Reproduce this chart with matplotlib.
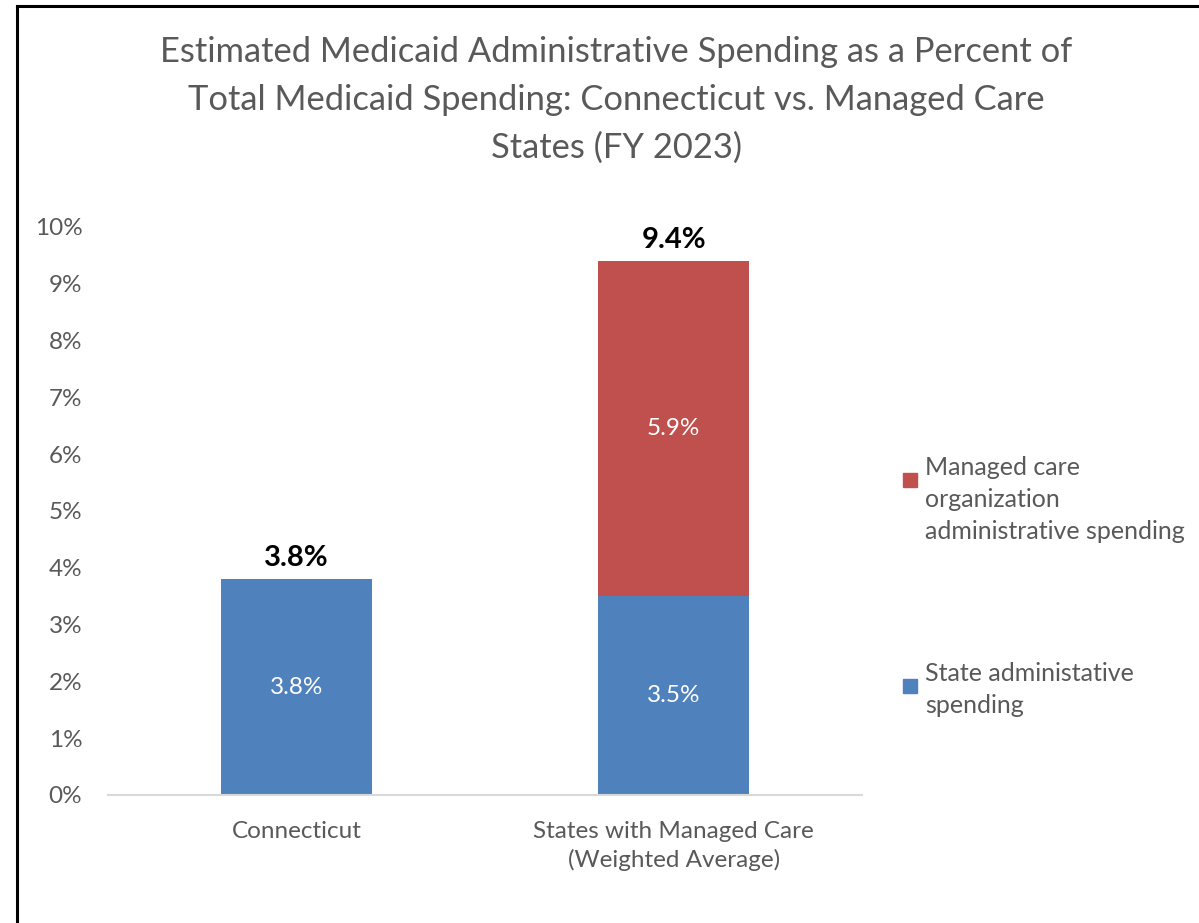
import matplotlib

matplotlib.use("Agg")
import matplotlib.pyplot as plt
from matplotlib.lines import Line2D
from matplotlib.patches import Rectangle
from matplotlib.ticker import FuncFormatter

plt.rcParams["font.family"] = ["Lato", "DejaVu Sans"]

# Data (percent of total Medicaid spending, FY 2023)
categories = ["Connecticut", "States with Managed Care\n(Weighted Average)"]
state_admin = [3.8, 3.5]
mco_admin = [0.0, 5.9]
totals = [3.8, 9.4]
series_labels = [
    "Managed care\norganization\nadministrative spending",
    "State administative\nspending",
]
title = (
    "Estimated Medicaid Administrative Spending as a Percent of\n"
    "Total Medicaid Spending: Connecticut vs. Managed Care\n"
    "States (FY 2023)"
)

BLUE = "#4F81BD"
RED = "#C0504D"
GRAY = "#595959"

fig = plt.figure(figsize=(11.99, 9.23), dpi=100)
ax = fig.add_axes([0.0901, 0.1387, 0.6289, 0.6154])

x = list(range(len(categories)))
width = 0.40
bars_state = ax.bar(x, state_admin, width, color=BLUE)
bars_mco = ax.bar(x, mco_admin, width, bottom=state_admin, color=RED)

# value labels inside each segment
for i, v in enumerate(state_admin):
    ax.text(i, v / 2, f"{v:.1f}%", ha="center", va="center", color="white", fontsize=17.5)
for i, v in enumerate(mco_admin):
    if v > 0:
        ax.text(i, state_admin[i] + v / 2, f"{v:.1f}%", ha="center", va="center",
                color="white", fontsize=17.5)

# totals above the bars
for i, t in enumerate(totals):
    ax.text(i, t + 0.15, f"{t:.1f}%", ha="center", va="bottom", color="black",
            fontsize=21, fontweight="bold")

ax.set_xlim(-0.5, 1.5)
ax.set_ylim(0, 10)
ax.set_yticks(range(0, 11))
ax.yaxis.set_major_formatter(FuncFormatter(lambda v, _: f"{v:.0f}%"))
ax.set_xticks(x)
ax.set_xticklabels(categories, linespacing=1.38)
ax.tick_params(axis="both", length=0, labelsize=17.5, labelcolor=GRAY)
ax.tick_params(axis="y", pad=18.5)
ax.tick_params(axis="x", pad=19)
for side in ["top", "right", "left"]:
    ax.spines[side].set_visible(False)
ax.spines["bottom"].set_color("#D9D9D9")
ax.spines["bottom"].set_linewidth(1.5)

fig.text(0.514, 0.961, title, ha="center", va="top", fontsize=24.8, color=GRAY,
         linespacing=1.6)

# legend, square aligned with the first text line
legend_rows = [(RED, series_labels[0], 0.4875), (BLUE, series_labels[1], 0.2645)]
for color, label, ytop in legend_rows:
    fig.patches.append(Rectangle((0.7535, ytop - 0.0152), 0.0117, 0.0152,
                                 transform=fig.transFigure, color=color))
    fig.text(0.7715, ytop + 0.0185, label, ha="left", va="top", fontsize=18,
             color=GRAY, linespacing=1.48)

# outer frame
fig.add_artist(Line2D([0.0142, 0.0142], [0, 0.9935], color="black", lw=2.2,
                      transform=fig.transFigure))
fig.add_artist(Line2D([0.0142, 1.0], [0.9935, 0.9935], color="black", lw=2.2,
                      transform=fig.transFigure))

fig.savefig("out.png", dpi=100)
